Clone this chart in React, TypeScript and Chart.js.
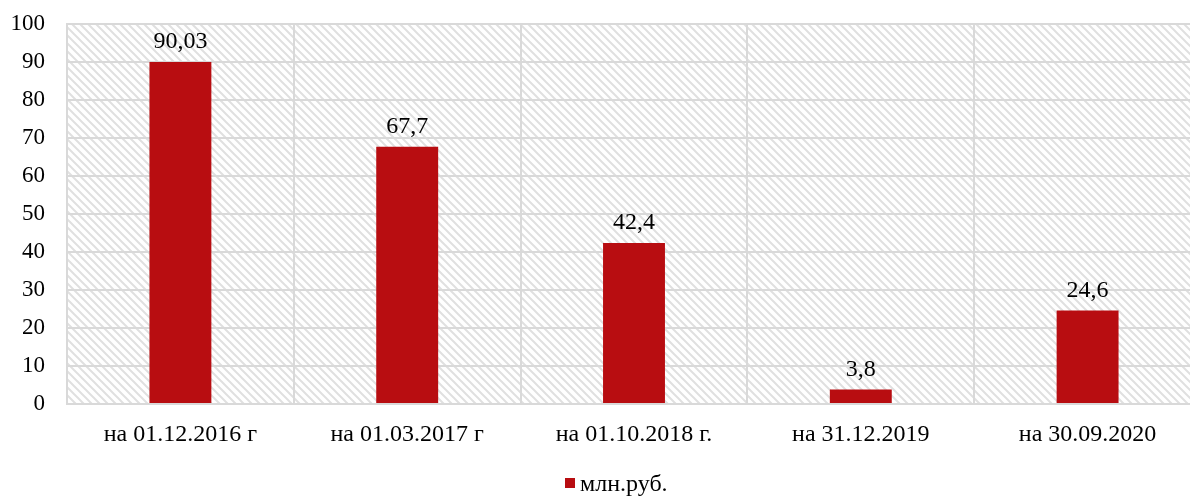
import React, { useEffect, useRef } from "react";
import { Chart, registerables } from "chart.js";

Chart.register(...registerables);

const categories = ["на 01.12.2016 г", "на 01.03.2017 г", "на 01.10.2018 г.", "на 31.12.2019", "на 30.09.2020"];
const values = [90.03, 67.7, 42.4, 3.8, 24.6];
const valueLabels = ["90,03", "67,7", "42,4", "3,8", "24,6"];
const seriesName = "млн.руб.";
const yTicks = [0, 10, 20, 30, 40, 50, 60, 70, 80, 90, 100];

const FONT = "'Liberation Serif', 'Times New Roman', serif";
const BAR = "#B80D11";
const GRID = "#d9d9d9";

function makePattern(ctx: CanvasRenderingContext2D) {
  const c = document.createElement("canvas");
  c.width = 8;
  c.height = 8;
  const p = c.getContext("2d")!;
  p.fillStyle = "#ffffff";
  p.fillRect(0, 0, 8, 8);
  p.strokeStyle = "#e0e0e0";
  p.lineWidth = 2;
  p.beginPath();
  p.moveTo(-4, -4);
  p.lineTo(12, 12);
  p.moveTo(-4, 4);
  p.lineTo(4, 12);
  p.moveTo(4, -4);
  p.lineTo(12, 4);
  p.stroke();
  return ctx.createPattern(c, "repeat");
}

const hatchPlugin = {
  id: "hatch",
  beforeDraw(chart: any) {
    const { ctx, chartArea } = chart;
    if (!chartArea) return;
    ctx.save();
    ctx.fillStyle = makePattern(ctx) as any;
    ctx.fillRect(chartArea.left, chartArea.top, chartArea.right - chartArea.left, chartArea.bottom - chartArea.top);
    ctx.restore();
  },
};

const labelPlugin = {
  id: "valueLabels",
  afterDatasetsDraw(chart: any) {
    const { ctx } = chart;
    const meta = chart.getDatasetMeta(0);
    ctx.save();
    ctx.font = `24px ${FONT}`;
    ctx.fillStyle = "#000";
    ctx.textAlign = "center";
    ctx.textBaseline = "alphabetic";
    meta.data.forEach((el: any, i: number) => {
      ctx.fillText(valueLabels[i], el.x, el.y - 14);
    });
    ctx.restore();
  },
};

const legendPlugin = {
  id: "customLegend",
  afterDraw(chart: any) {
    const { ctx } = chart;
    ctx.save();
    ctx.fillStyle = BAR;
    ctx.fillRect(565, 478, 10, 10);
    ctx.font = `24px ${FONT}`;
    ctx.fillStyle = "#000";
    ctx.textAlign = "left";
    ctx.textBaseline = "alphabetic";
    ctx.fillText(chart.data.datasets[0].label, 580, 491);
    ctx.restore();
  },
};

export default function App() {
  const ref = useRef<HTMLCanvasElement>(null);
  useEffect(() => {
    const chart = new Chart(ref.current!, {
      type: "bar",
      data: {
        labels: categories,
        datasets: [
          {
            label: seriesName,
            data: values,
            backgroundColor: BAR,
            barPercentage: 1,
            categoryPercentage: 0.273,
          },
        ],
      },
      options: {
        responsive: false,
        animation: false,
        layout: { padding: { top: 24, right: 19, left: 0, bottom: 0 } },
        plugins: {
          legend: { display: false },
          tooltip: { enabled: false },
        },
        scales: {
          x: {
            grid: { color: GRID, lineWidth: 2, drawTicks: false, offset: true },
            border: { color: GRID, width: 2 },
            ticks: { color: "#000", font: { family: FONT, size: 24 }, padding: 16, maxRotation: 0 },
            afterFit(scale: any) {
              scale.height = 93;
            },
          },
          y: {
            min: 0,
            max: 100,
            afterBuildTicks(scale: any) {
              scale.ticks = yTicks.map((v) => ({ value: v }));
            },
            grid: { color: GRID, lineWidth: 2, drawTicks: true, tickLength: 12, tickColor: "rgba(0,0,0,0)" },
            border: { color: GRID, width: 2 },
            ticks: { color: "#000", font: { family: FONT, size: 23 }, padding: 10 },
            afterFit(scale: any) {
              scale.width = 67;
            },
          },
        },
      },
      plugins: [hatchPlugin, labelPlugin, legendPlugin],
    } as any);
    return () => chart.destroy();
  }, []);
  return (
    <div style={{ position: "fixed", left: 0, top: 0, width: 1190, height: 497, overflow: "hidden" }}>
      <canvas ref={ref} width={1220} height={497} style={{ width: 1220, height: 497, display: "block" }} />
    </div>
  );
}
